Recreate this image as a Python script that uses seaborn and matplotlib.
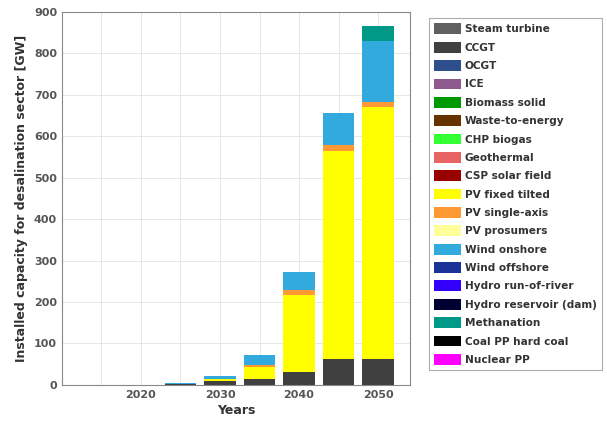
import seaborn as sns
import pandas as pd
import matplotlib.pyplot as plt
from matplotlib.patches import Patch

# years and technologies
years = [2015, 2020, 2025, 2030, 2035, 2040, 2045, 2050]
techs = ["Steam turbine", "CCGT", "OCGT", "ICE", "Biomass solid", "Waste-to-energy",
         "CHP biogas", "Geothermal", "CSP solar field", "PV fixed tilted", "PV single-axis",
         "PV prosumers", "Wind onshore", "Wind offshore", "Hydro run-of-river",
         "Hydro reservoir (dam)", "Methanation", "Coal PP hard coal", "Nuclear PP"]
colors = ["#606060", "#404040", "#2E4E8E", "#8E5A8E", "#009900", "#663300",
          "#33FF33", "#E86464", "#990000", "#FFFF00", "#FF9933",
          "#FFFF99", "#33AADD", "#1A3399", "#3300FF",
          "#000033", "#009988", "#000000", "#FF00FF"]

# installed capacity [GW], only non-zero series
ccgt = [0, 0, 2, 10, 15, 32, 62, 62]
pv_fixed = [0, 0, 0, 3, 28, 186, 503, 608]
pv_single = [0, 0, 0, 1, 5, 11, 14, 12]
wind_on = [0, 0, 2, 7, 24, 43, 78, 148]
methanation = [0, 0, 0, 0, 0, 0, 0, 36]

series = {"CCGT": ccgt, "PV fixed tilted": pv_fixed, "PV single-axis": pv_single,
          "Wind onshore": wind_on, "Methanation": methanation}

rows = []
for t in techs:
    vals = series.get(t, [0] * len(years))
    for y, v in zip(years, vals):
        rows.append({"year": y, "tech": t, "gw": v})
df = pd.DataFrame(rows)

sns.set_style("whitegrid")
plt.rcParams['font.family'] = ['DejaVu Sans']

fig = plt.figure(figsize=(6.07, 4.29), dpi=100)
ax = fig.add_axes([0.102, 0.103, 0.573, 0.869])

pal = dict(zip(techs, colors))
# histplot stacks the first hue level on top, so reverse it
sns.histplot(data=df, x="year", weights="gw", hue="tech", hue_order=techs[::-1],
             palette=pal, multiple="stack", bins=[2012.5 + 5 * i for i in range(9)],
             shrink=0.8, linewidth=0, alpha=1, legend=False, ax=ax)

ax.set_xlim(2010, 2054)
ax.set_ylim(0, 900)
ax.set_xticks([2020, 2030, 2040, 2050])
ax.set_xticks(list(range(2015, 2055, 5)), minor=True)
ax.set_yticks(range(0, 1000, 100))
ax.grid(True, which="both", color="#e6e6e6", linewidth=0.7)
ax.set_axisbelow(True)
for s in ax.spines.values():
    s.set_color("#888888")
    s.set_linewidth(0.8)
ax.tick_params(labelsize=8, colors="#555555", length=0)
for lbl in ax.get_xticklabels() + ax.get_yticklabels():
    lbl.set_fontweight("bold")
ax.set_xlabel("Years", fontsize=9, fontweight="bold", color="#333333", labelpad=3)
ax.set_ylabel("Installed capacity for desalination sector [GW]", fontsize=9,
              fontweight="bold", color="#333333", labelpad=4)

handles = [Patch(facecolor=c, edgecolor="none", label=t) for t, c in zip(techs, colors)]
leg = fig.legend(handles=handles, loc="upper left", bbox_to_anchor=(0.698, 0.97),
                 fontsize=7.6, frameon=True, fancybox=False, handlelength=2.5,
                 handleheight=1.2, labelspacing=0.7, borderpad=0.5, handletextpad=0.4)
leg.get_frame().set_edgecolor("#999999")
leg.get_frame().set_linewidth(0.8)
for txt in leg.get_texts():
    txt.set_fontweight("bold")
    txt.set_color("#333333")

fig.savefig("out.png", dpi=100)
